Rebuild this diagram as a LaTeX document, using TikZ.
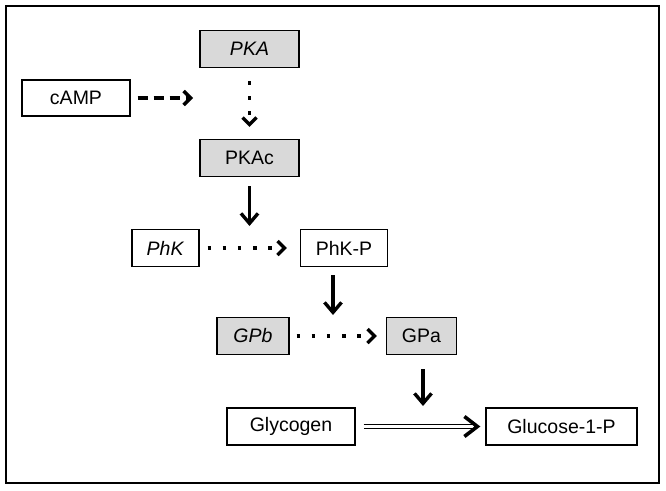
\documentclass[tikz,border=0pt]{standalone}
\usepackage{fontspec}
\setmainfont{Liberation Sans}
\usetikzlibrary{arrows.meta,calc}
\definecolor{boxgrey}{HTML}{D9D9D9}
\begin{document}
\begin{tikzpicture}[x=1pt,y=-1pt,
  every node/.style={font=\fontsize{19.5}{22}\selectfont},
  nbox/.style={draw=black,line width=1.2pt,minimum height=37pt,inner sep=0pt,fill=white},
  gbox/.style={nbox,fill=boxgrey},
  solidarr/.style={line width=3.4pt,-{Straight Barb[length=10pt,width=17pt,line width=3.4pt]}},
  dotarr/.style={line width=3.6pt,dash pattern=on 3.6pt off 11.5pt,-{Straight Barb[length=7pt,width=14pt,line width=3.4pt]}},
  dasharr/.style={line width=3.4pt,dash pattern=on 10pt off 6pt,-{Straight Barb[length=7pt,width=14pt,line width=3.4pt]}}]
\useasboundingbox (0,0) rectangle (666,490);
\draw[line width=1.5pt] (6,6) rectangle (659,483);
% nodes
\node[gbox,minimum width=99pt] (pka) at (249.5,49) {\textit{PKA}};
\node[nbox,minimum width=108pt,minimum height=36pt] (camp) at (76,98) {cAMP};
\node[gbox,minimum width=99pt] (pkac) at (249.5,158) {PKAc};
\node[nbox,minimum width=67pt] (phk) at (165.5,248) {\textit{PhK}};
\node[nbox,minimum width=87pt] (phkp) at (344,248) {PhK-P};
\node[gbox,minimum width=72pt] (gpb) at (253,336) {\textit{GPb}};
\node[gbox,minimum width=70pt] (gpa) at (421.5,336) {GPa};
\node[nbox,minimum width=128pt] (glyc) at (291,426.5) {Glycogen};
\node[nbox,minimum width=151pt] (glc) at (561.5,426.5) {Glucose-1-P};
% target coordinates
\coordinate (t0) at (193,98);
\coordinate (t1) at (249.5,226);
\coordinate (t2) at (333,315);
\coordinate (t3) at (423,406);
% connectors
\draw[dasharr,shorten <=7pt] (camp.east) -- (t0);
\draw[dotarr,shorten <=13pt,shorten >=12pt] (pka.south) -- (pkac.north);
\draw[solidarr,shorten <=9pt] (pkac.south) -- (t1);
\draw[dotarr,shorten <=8pt,shorten >=13pt] (phk.east) -- (phkp.west);
\draw[solidarr,shorten <=8pt] (phkp.south -| t2) -- (t2);
\draw[dotarr,shorten <=7pt,shorten >=9pt] (gpb.east) -- (gpa.west);
\draw[solidarr,shorten <=14pt] (gpa.south -| t3) -- (t3);
% double arrow
\draw[line width=1.1pt,double distance=2.6pt,shorten <=8pt,shorten >=10pt] (glyc.east) -- (glc.west);
\coordinate (tip) at ($(glc.west)+(-8,0)$);
\draw[line width=3.6pt,line cap=butt,line join=miter] ($(tip)+(-13,-10)$) -- (tip) -- ($(tip)+(-13,10)$);
\end{tikzpicture}
\end{document}
